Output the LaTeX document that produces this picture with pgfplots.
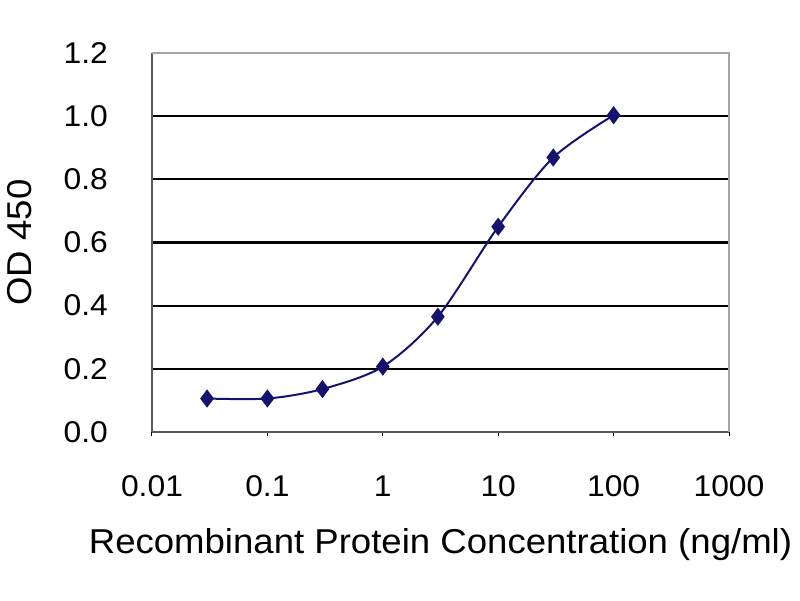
\documentclass[border=0pt]{standalone}
\usepackage{fontspec}
\setmainfont{Liberation Sans}[FakeStretch=1.06]
\usepackage{pgfplots}
\pgfplotsset{compat=1.18}
\definecolor{navy}{RGB}{20,20,110}
\definecolor{frameL}{RGB}{90,90,90}
\definecolor{frameR}{RGB}{165,165,165}
\begin{document}
\begin{tikzpicture}
\path[use as bounding box] (0,0) rectangle (800pt,600pt);
\begin{axis}[
  at={(152pt,168pt)}, anchor=south west,
  scale only axis, width=577pt, height=379pt,
  xmode=log, xmin=0.01, xmax=1000,
  ymin=0, ymax=1.2,
  xtick={0.01,0.1,1,10,100,1000},
  xticklabels={0.01,0.1,1,10,100,1000},
  xminorticks=false,
  ytick={0,0.2,0.4,0.6,0.8,1.0,1.2},
  yticklabel={\pgfmathprintnumber[fixed,fixed zerofill,precision=1]{\tick}},
  /pgf/number format/assume math mode=true,
  axis x line*=bottom, axis y line*=left,
  axis line style={draw=frameL, line width=2.5pt, -},
  xtick pos=bottom, ytick pos=left,
  tick align=outside,
  xtick style={black, line width=1pt},
  major tick length=4pt,
  ytick style={draw=none},
  ymajorgrids,
  grid style={black, line width=2.2pt},
  xticklabel style={anchor=base, inner sep=0pt, yshift=-60pt, font=\fontsize{30}{34}\selectfont},
  yticklabel style={anchor=east, inner sep=0pt, xshift=-40pt, font=\fontsize{30}{34}\selectfont},
  xlabel={Recombinant Protein Concentration (ng/ml)},
  ylabel={OD 450},
  xlabel style={at={(axis description cs:0.5,0)}, anchor=base, inner sep=0pt, yshift=-121pt, font=\fontsize{34.5}{40}\selectfont},
  ylabel style={at={(axis description cs:-0.208,0.5)}, anchor=base, inner sep=0pt, font=\fontsize{34.5}{40}\selectfont},
  clip=false,
]
\draw[frameR, line width=2.5pt] (rel axis cs:0,1) -- (rel axis cs:1,1) -- (rel axis cs:1,0);
\addplot[navy, line width=2pt, smooth, mark=diamond*, mark size=7.5pt, mark options={fill=navy, draw=navy}]
coordinates {
(0.03,0.106) (0.1,0.106) (0.3,0.136) (1,0.207) (3,0.365) (10,0.650) (30,0.869) (100,1.003)
};
\end{axis}
\end{tikzpicture}
\end{document}
